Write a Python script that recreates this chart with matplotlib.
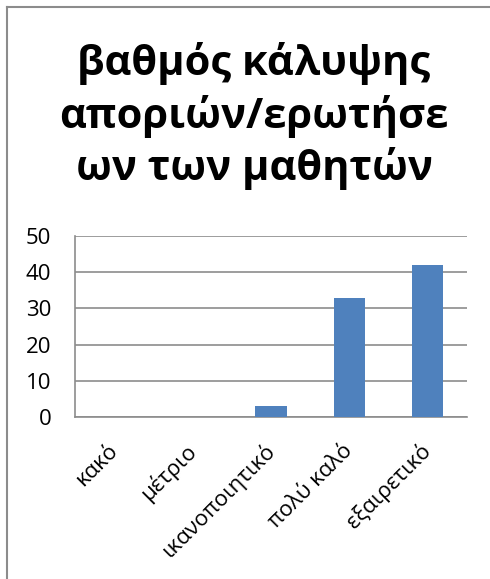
import matplotlib
matplotlib.use("Agg")
import matplotlib.pyplot as plt
from matplotlib.lines import Line2D

# categories and counts
categories = ["κακό", "μέτριο", "ικανοποιητικό", "πολύ καλό", "εξαιρετικό"]
counts = [0, 0, 3, 33, 42]
title = "βαθμός κάλυψης\nαποριών/ερωτήσε\nων των μαθητών"

plt.rcParams["font.family"] = ["Open Sans", "DejaVu Sans"]

BAR = "#4F81BD"
GRID = "#8C8C8C"

fig = plt.figure(figsize=(4.90, 5.79), dpi=100)
fig.patch.set_facecolor("white")

# chart frame (left and top edges visible)
fig.add_artist(Line2D([7 / 490, 7 / 490], [0, 1 - 7 / 579], transform=fig.transFigure,
                      color=GRID, lw=1.5))
fig.add_artist(Line2D([7 / 490, 1], [1 - 7 / 579, 1 - 7 / 579], transform=fig.transFigure,
                      color=GRID, lw=1.5))

fig.text(254 / 490, 1 - 116 / 579, title, ha="center", va="center",
         fontsize=30, fontweight="bold", linespacing=1.3)

ax = fig.add_axes([75 / 490, 1 - 417 / 579, 392 / 490, 181 / 579])
x = range(len(categories))
ax.bar(x, counts, width=0.4, color=BAR, zorder=3)
ax.set_xlim(-0.5, len(categories) - 0.5)
ax.set_ylim(0, 50)
ax.set_yticks(range(0, 51, 10))
ax.yaxis.grid(True, color=GRID, lw=1.2, zorder=0)
for s in ["top", "right"]:
    ax.spines[s].set_visible(False)
for s in ["left", "bottom"]:
    ax.spines[s].set_color(GRID)
    ax.spines[s].set_linewidth(1.2)
ax.tick_params(axis="y", length=0, labelsize=16, pad=17)
ax.tick_params(axis="x", length=0, labelsize=16, pad=22)
ax.set_xticks(list(x))
ax.set_xticklabels(categories, rotation=45, ha="right", va="center",
                   rotation_mode="anchor")

fig.savefig("out.png", dpi=100, facecolor="white")
